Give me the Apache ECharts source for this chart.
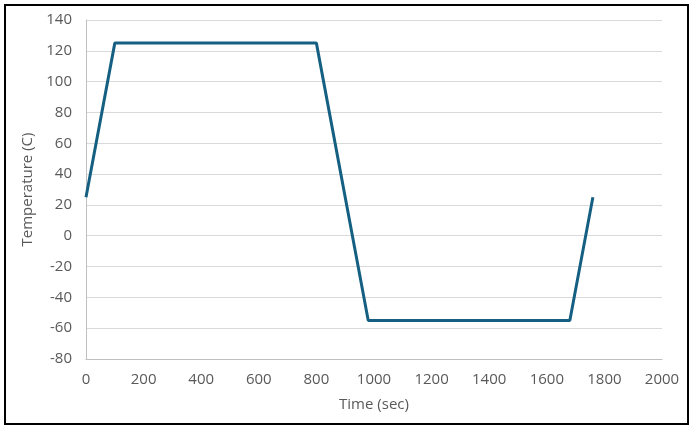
<!DOCTYPE html>
<html>

<head>
    <meta charset="utf-8">
    <title></title>
    <script src="https://cdn.jsdelivr.net/npm/echarts@6/dist/echarts.min.js"></script>
</head>
<style>
    html, body {
        margin: 0;
        padding: 0;
        background: #fff;
    }
    #frame {
        position: absolute;
        left: 4px;
        top: 4px;
        width: 681px;
        height: 417px;
        border: 2px solid #000;
    }
    #chart_box {
        position: absolute;
        left: 0;
        top: 0;
        width: 693px;
        height: 429px;
    }
</style>

<body>
    <div id="frame"></div>
    <div id="chart_box"></div>

    <script>
        // profile points (sec, C)
        var timeSec = [0, 100, 800, 980, 1680, 1760];
        var tempC = [25, 125, 125, -55, -55, 25];

        var xMin = 0, xMax = 2000, xStep = 200;
        var yMin = -80, yMax = 140, yStep = 20;

        var points = [];
        for (var i = 0; i < timeSec.length; i++) {
            points.push([timeSec[i], tempC[i]]);
        }

        var myChart = echarts.init(document.getElementById('chart_box'));
        var txt = '#595959';
        var fnt = 'Open Sans';

        var option = {
            animation: false,
            grid: {
                left: 86,
                right: 31,
                top: 20,
                bottom: 70
            },
            xAxis: {
                type: 'value',
                min: xMin,
                max: xMax,
                interval: xStep,
                name: 'Time (sec)',
                nameLocation: 'middle',
                nameGap: 38,
                nameTextStyle: { color: txt, fontSize: 15, fontFamily: fnt },
                axisLine: { show: true, onZero: false, lineStyle: { color: '#bfbfbf', width: 1 } },
                axisTick: { show: false },
                splitLine: { show: false },
                axisLabel: {
                    color: txt, fontSize: 15, fontFamily: fnt, margin: 13,
                    formatter: function (v) { return String(v); }
                }
            },
            yAxis: {
                type: 'value',
                min: yMin,
                max: yMax,
                interval: yStep,
                name: 'Temperature (C)',
                nameLocation: 'middle',
                nameGap: 41,
                nameTextStyle: { color: txt, fontSize: 15, fontFamily: fnt },
                axisLine: { show: true, lineStyle: { color: '#bfbfbf', width: 1 } },
                axisTick: { show: false },
                splitLine: { show: true, lineStyle: { color: '#d9d9d9', width: 1 } },
                axisLabel: { color: txt, fontSize: 15, fontFamily: fnt, margin: 14 }
            },
            series: [{
                type: 'line',
                data: points,
                symbol: 'none',
                lineStyle: { color: '#156082', width: 3 }
            }]
        };
        myChart.setOption(option);
    </script>
</body>

</html>
